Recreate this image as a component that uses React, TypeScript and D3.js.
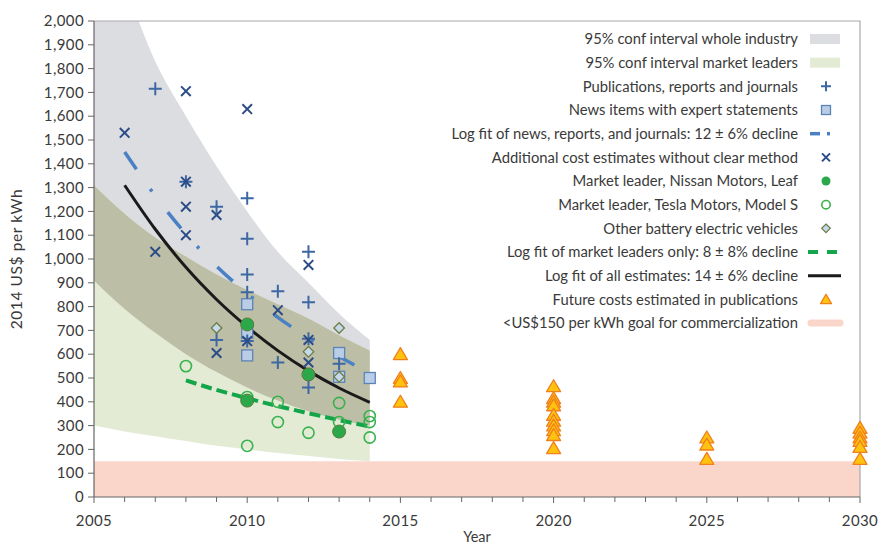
import React from "react";
import * as d3 from "d3";

const W = 878;
const H = 546;

// ---------- data ----------
const bandYears = [2005, 2006, 2007, 2008, 2009, 2010, 2011, 2012, 2013, 2014];
const industryUpper = [2450, 2150, 1830, 1600, 1390, 1200, 1030, 900, 770, 660];
const industryLower = [910, 790, 690, 600, 525, 460, 405, 360, 325, 300];
const leadersUpper = [1310, 1190, 1090, 1010, 935, 870, 810, 750, 680, 616];
const leadersLower = [300, 275, 255, 235, 215, 200, 185, 172, 160, 150];

const allFitYears = [2006, 2007, 2008, 2009, 2010, 2011, 2012, 2013, 2014];
const allFitValues = [1310, 1125, 965, 830, 715, 615, 530, 458, 398];
const newsFitYears = [2006, 2007, 2008, 2009, 2010, 2011, 2012, 2013, 2014];
const newsFitValues = [1450, 1265, 1105, 970, 855, 755, 668, 590, 520];
const leaderFitYears = [2008, 2009, 2010, 2011, 2012, 2013, 2014];
const leaderFitValues = [490, 450, 415, 382, 352, 323, 296];

const goalValue = 150;

const publications: [number, number][] = [
  [2007, 1715], [2008, 1325], [2009, 1220], [2009, 660], [2010, 1255], [2010, 1085],
  [2010, 935], [2010, 860], [2010, 655], [2011, 865], [2011, 565], [2012, 1030],
  [2012, 818], [2012, 665], [2012, 460], [2013, 560],
];
const additional: [number, number][] = [
  [2006, 1530], [2007, 1030], [2008, 1705], [2008, 1325], [2008, 1220], [2008, 1100],
  [2009, 1185], [2009, 605], [2010, 1630], [2010, 655], [2011, 785], [2012, 975],
  [2012, 660], [2012, 565],
];
const newsItems: [number, number][] = [
  [2010, 810], [2010, 690], [2010, 595], [2013, 605], [2013, 505], [2014, 500],
];
const otherBEV: [number, number][] = [[2009, 710], [2012, 610], [2013, 710], [2013, 505]];
const nissanLeaf: [number, number][] = [[2010, 725], [2010, 405], [2012, 515], [2013, 275]];
const teslaS: [number, number][] = [
  [2008, 550], [2010, 420], [2010, 215], [2011, 400], [2011, 315], [2012, 270],
  [2013, 395], [2013, 315], [2014, 340], [2014, 315], [2014, 250],
];
const futureYears = [2015, 2020, 2025, 2030];
const futureValues = [
  [600, 500, 485, 400],
  [465, 415, 400, 385, 345, 320, 300, 280, 260, 205],
  [250, 220, 160],
  [290, 270, 250, 235, 210, 160],
];

const yTicks = d3.range(0, 2001, 100);
const xMajorTicks = [2005, 2010, 2015, 2020, 2025, 2030];
const xMinorTicks = d3.range(2005, 2031, 1);

const legendLabels = [
  "95% conf interval whole industry",
  "95% conf interval market leaders",
  "Publications, reports and journals",
  "News items with expert statements",
  "Log fit of news, reports, and journals: 12 \u00b1 6% decline",
  "Additional cost estimates without clear method",
  "Market leader, Nissan Motors, Leaf",
  "Market leader, Tesla Motors, Model S",
  "Other battery electric vehicles",
  "Log fit of market leaders only: 8 \u00b1 8% decline",
  "Log fit of all estimates: 14 \u00b1 6% decline",
  "Future costs estimated in publications",
  "<US$150 per kWh goal for commercialization",
];

// ---------- styles ----------
const C = {
  gray: "#dcdde0",
  green: "#e3ebd5",
  olive: "#bdbea6",
  pink: "#fad5c9",
  plus: "#3d68a3",
  cross: "#2b4c86",
  sqFill: "#b9cde6",
  sqStroke: "#5d84b6",
  dash: "#4a80c4",
  leaf: "#2aa84a",
  leafStroke: "#5b7a3a",
  tesla: "#37b24f",
  diaFill: "#c6d9ec",
  diaStroke: "#6e7d45",
  fitGreen: "#13a54a",
  triFill: "#ffc20e",
  triStroke: "#f07f1c",
  text: "#3a3a3a",
  axis: "#666",
};
const FONT = "Lato, 'Open Sans', sans-serif";

const x = d3.scaleLinear().domain([2005, 2030]).range([94, 860]);
const y = d3.scaleLinear().domain([0, 2000]).range([497, 21]);

function Plus({ cx, cy, s = 6.5 }: { cx: number; cy: number; s?: number }) {
  return (
    <path d={`M${cx - s},${cy}H${cx + s}M${cx},${cy - s}V${cy + s}`} stroke={C.plus} strokeWidth={2} fill="none" />
  );
}
function Cross({ cx, cy, s = 4.8 }: { cx: number; cy: number; s?: number }) {
  return (
    <path d={`M${cx - s},${cy - s}L${cx + s},${cy + s}M${cx - s},${cy + s}L${cx + s},${cy - s}`} stroke={C.cross} strokeWidth={2} fill="none" />
  );
}
function Square({ cx, cy, s = 5.5 }: { cx: number; cy: number; s?: number }) {
  return <rect x={cx - s} y={cy - s} width={2 * s} height={2 * s} fill={C.sqFill} stroke={C.sqStroke} strokeWidth={1.3} />;
}
function Diamond({ cx, cy, s = 5.3 }: { cx: number; cy: number; s?: number }) {
  return (
    <path d={`M${cx},${cy - s}L${cx + s},${cy}L${cx},${cy + s}L${cx - s},${cy}Z`} fill={C.diaFill} stroke={C.diaStroke} strokeWidth={1.3} />
  );
}
function Triangle({ cx, cy, s = 7 }: { cx: number; cy: number; s?: number }) {
  const h = s * 1.7;
  return (
    <path d={`M${cx},${cy - h * 0.55}L${cx + s},${cy + h * 0.45}L${cx - s},${cy + h * 0.45}Z`} fill={C.triFill} stroke={C.triStroke} strokeWidth={1.3} strokeLinejoin="round" />
  );
}

export default function App() {
  const bandArea = (lo: number[], hi: number[]) =>
    d3
      .area<number>()
      .x((d) => x(d))
      .y0((_, i) => y(lo[i]))
      .y1((_, i) => y(hi[i]))
      .curve(d3.curveMonotoneX)(bandYears) as string;

  const overlapLo = bandYears.map((_, i) => Math.max(industryLower[i], leadersLower[i]));
  const overlapHi = bandYears.map((_, i) => Math.min(industryUpper[i], leadersUpper[i]));

  const line = (xs: number[], vs: number[]) =>
    d3
      .line<number>()
      .x((d) => x(d))
      .y((_, i) => y(vs[i]))
      .curve(d3.curveMonotoneX)(xs) as string;

  const legendY = (i: number) => 39 + i * 23.67;
  const lx = 826;

  return (
    <div style={{ position: "fixed", left: 0, top: 0, width: W, height: H, background: "#fff" }}>
      <svg width={W} height={H} style={{ display: "block" }} fontFamily={FONT}>
        <defs>
          <clipPath id="plotClip">
            <rect x={94} y={21} width={766} height={476} />
          </clipPath>
        </defs>
        <g clipPath="url(#plotClip)">
          <rect x={x(2005)} y={y(goalValue)} width={x(2030) - x(2005)} height={y(0) - y(goalValue)} fill={C.pink} />
          <path d={bandArea(industryLower, industryUpper)} fill={C.gray} />
          <path d={bandArea(leadersLower, leadersUpper)} fill={C.green} />
          <path d={bandArea(overlapLo, overlapHi)} fill={C.olive} />
        </g>
        {/* frame */}
        <path d={`M94,21H860V497`} fill="none" stroke="#a9a9a9" strokeWidth={1.2} />

        {/* fit lines */}
        <path d={line(allFitYears, allFitValues)} fill="none" stroke="#1a1a1a" strokeWidth={3} />
        <path d={line(leaderFitYears, leaderFitValues)} fill="none" stroke={C.fitGreen} strokeWidth={4} strokeDasharray="11 5" />
        <path d={line(newsFitYears, newsFitValues)} fill="none" stroke={C.dash} strokeWidth={3.5} strokeDasharray="21 24 3 26" />

        {/* markers */}
        {newsItems.map(([a, b], i) => <Square key={"s" + i} cx={x(a)} cy={y(b)} />)}
        {otherBEV.map(([a, b], i) => <Diamond key={"d" + i} cx={x(a)} cy={y(b)} />)}
        {teslaS.map(([a, b], i) => (
          <circle key={"t" + i} cx={x(a)} cy={y(b)} r={5.6} fill="none" stroke={C.tesla} strokeWidth={1.6} />
        ))}
        {publications.map(([a, b], i) => <Plus key={"p" + i} cx={x(a)} cy={y(b)} />)}
        {additional.map(([a, b], i) => <Cross key={"c" + i} cx={x(a)} cy={y(b)} />)}
        {nissanLeaf.map(([a, b], i) => (
          <circle key={"n" + i} cx={x(a)} cy={y(b)} r={6.5} fill={C.leaf} stroke={C.leafStroke} strokeWidth={1} />
        ))}
        {futureYears.map((yr, j) =>
          futureValues[j].map((v, i) => <Triangle key={"f" + j + "_" + i} cx={x(yr)} cy={y(v)} />)
        )}

        {/* y axis */}
        <line x1={94} x2={94} y1={21} y2={497} stroke={C.axis} strokeWidth={1.2} />
        {yTicks.map((t) => (
          <g key={"yt" + t}>
            <line x1={88} x2={94} y1={y(t)} y2={y(t)} stroke={C.axis} strokeWidth={1} />
            <text x={84} y={y(t)} dy="0.35em" textAnchor="end" fontSize={15} letterSpacing={0.4} fill={C.text}>
              {d3.format(",")(t)}
            </text>
          </g>
        ))}
        <text transform={`translate(22,${(21 + 497) / 2}) rotate(-90)`} textAnchor="middle" fontSize={15.5} letterSpacing={0.6} fill={C.text}>
          2014 US$ per kWh
        </text>

        {/* x axis */}
        <line x1={94} x2={860} y1={497} y2={497} stroke={C.axis} strokeWidth={1.2} />
        {xMinorTicks.map((t) => (
          <line key={"xm" + t} x1={x(t)} x2={x(t)} y1={497} y2={xMajorTicks.includes(t) ? 503 : 502} stroke={C.axis} strokeWidth={1} />
        ))}
        {xMajorTicks.map((t) => (
          <text key={"xl" + t} x={x(t)} y={526} textAnchor="middle" fontSize={15} letterSpacing={0.4} fill={C.text}>
            {t}
          </text>
        ))}
        <text x={x(2017.5)} y={542} textAnchor="middle" fontSize={14.5} fill={C.text}>
          Year
        </text>

        {/* legend */}
        {legendLabels.map((lab, i) => (
          <text key={"lg" + i} x={798} y={legendY(i)} dy="0.35em" textAnchor="end" fontSize={14.8} fill={C.text}>
            {lab}
          </text>
        ))}
        <rect x={810} y={legendY(0) - 5} width={30} height={10} fill={C.gray} />
        <rect x={810} y={legendY(1) - 5} width={30} height={10} fill={C.green} />
        <Plus cx={lx} cy={legendY(2)} s={5} />
        <Square cx={lx} cy={legendY(3)} s={4.5} />
        <line x1={810} x2={820} y1={legendY(4)} y2={legendY(4)} stroke={C.dash} strokeWidth={3.5} />
        <line x1={827} x2={830} y1={legendY(4)} y2={legendY(4)} stroke={C.dash} strokeWidth={3.5} />
        <Cross cx={lx} cy={legendY(5)} s={4} />
        <circle cx={lx} cy={legendY(6)} r={4.5} fill={C.leaf} />
        <circle cx={lx} cy={legendY(7)} r={4.2} fill="none" stroke={C.tesla} strokeWidth={1.6} />
        <Diamond cx={lx} cy={legendY(8)} s={4.3} />
        <line x1={808} x2={818} y1={legendY(9)} y2={legendY(9)} stroke={C.fitGreen} strokeWidth={4} />
        <line x1={827} x2={837} y1={legendY(9)} y2={legendY(9)} stroke={C.fitGreen} strokeWidth={4} />
        <line x1={808} x2={841} y1={legendY(10)} y2={legendY(10)} stroke="#1a1a1a" strokeWidth={3} />
        <Triangle cx={lx} cy={legendY(11)} s={5.5} />
        <line x1={811} x2={840} y1={legendY(12)} y2={legendY(12)} stroke={C.pink} strokeWidth={7} strokeLinecap="round" />
      </svg>
    </div>
  );
}
